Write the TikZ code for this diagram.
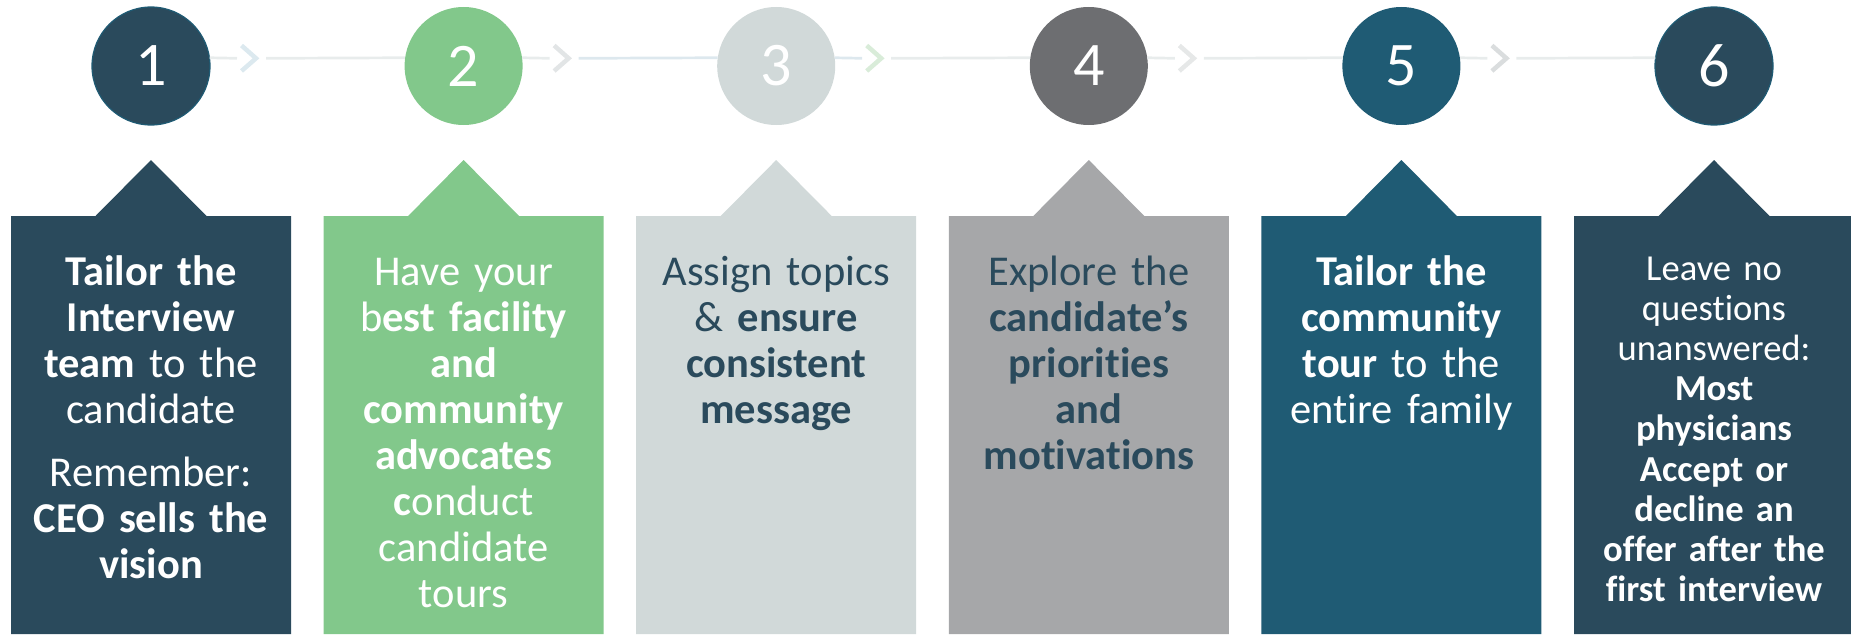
\documentclass[tikz,border=0pt]{standalone}
\usepackage{fontspec}
\setmainfont{Carlito}[Ligatures=NoCommon]
\definecolor{slate}{HTML}{2A4A5C}
\definecolor{stepgreen}{HTML}{82C88B}
\definecolor{lgrey}{HTML}{D1D9D9}
\definecolor{dgrey}{HTML}{6D6E71}
\definecolor{mgrey}{HTML}{A6A7A9}
\definecolor{teal}{HTML}{1F5B74}
\definecolor{linkc}{HTML}{E8ECEC}
\definecolor{linkb}{HTML}{DDE8EE}
\definecolor{chevA}{HTML}{DCE9EF}
\definecolor{chevB}{HTML}{E2E5E6}
\definecolor{chevC}{HTML}{D9ECD9}
\definecolor{chevD}{HTML}{E6E8E8}
\definecolor{chevE}{HTML}{DADDDE}
\tikzset{
  stepcirc/.style={circle, minimum size=118pt, inner sep=0pt, text=white,
    font=\fontsize{62}{62}\selectfont},
  boxtxt/.style={text width=270pt, align=center, anchor=base, inner sep=0pt,
    font=\fontsize{42.5}{46}\selectfont},
  smalltxt/.style={boxtxt, font=\fontsize{36.6}{40.2}\selectfont},
  linkline/.style={line width=2.7pt},
  chevron/.style={line width=4.5pt, line join=miter}
}
\begin{document}
\begin{tikzpicture}[x=1pt,y=-1pt]
\useasboundingbox (0,0) rectangle (1851,634);
% boxes with pointer triangles
\foreach \i/\bc in {1/slate,2/stepgreen,3/lgrey,4/mgrey,5/teal,6/slate}{
  \pgfmathsetmacro{\cx}{151+312.6*(\i-1)}
  \fill[\bc] (\cx-140,216) -- (\cx-55.5,216) -- (\cx,160) -- (\cx+55.5,216)
     -- (\cx+140,216) -- (\cx+140,634) -- (\cx-140,634) -- cycle;
}
% numbered circles
\foreach \i/\fc in {1/slate,2/stepgreen,3/lgrey,4/dgrey,5/teal,6/slate}{
  \pgfmathsetmacro{\cx}{151+312.6*(\i-1)}
  \node[stepcirc, fill=\fc] (c\i) at (\cx,66) {\i};
}
\draw[teal, line width=1.2pt] (c1) circle (59pt);
\draw[teal, line width=1.2pt] (c6) circle (59pt);
% connectors with chevrons
\foreach \i/\j/\la/\cc/\lb in {1/2/linkc/chevA/linkc,2/3/linkc/chevB/linkb,3/4/linkb/chevC/linkc,4/5/linkc/chevD/linkc,5/6/linkc/chevE/linkc}{
  \pgfmathsetmacro{\cx}{151+312.6*(\i-1)}
  \coordinate (a\i) at (\cx+86,58.3);
  \coordinate (b\i) at (\cx+115,58.3);
  \coordinate (p\i) at (\cx+90.5,45.5);
  \coordinate (q\i) at (\cx+105,58.3);
  \coordinate (r\i) at (\cx+90.5,71);
  \draw[linkline, \la] (c\i.8) -- (a\i);
  \draw[linkline, \lb] (b\i) -- (c\j.172);
  \draw[chevron, \cc] (p\i) -- (q\i) -- (r\i);
}
% texts
\node[boxtxt, text=white] (t1) at (151,285) {\textbf{Tailor the}\\\textbf{Interview}\\\textbf{team} to the\\candidate\\[17pt]Remember:\\\textbf{CEO sells the}\\\textbf{vision}};
\node[boxtxt, text=white] (t2) at (463.6,285) {Have your\\b\textbf{est facility}\\\textbf{and}\\\textbf{community}\\\textbf{advocates}\\\textbf{c}onduct\\candidate\\tours};
\node[boxtxt, text=slate] (t3) at (776.2,285) {Assign topics\\\& \textbf{ensure}\\\textbf{consistent}\\\textbf{message}};
\node[boxtxt, text=slate] (t4) at (1088.8,285) {Explore the\\\textbf{candidate’s}\\\textbf{priorities}\\\textbf{and}\\\textbf{motivations}};
\node[boxtxt, text=white] (t5) at (1401.4,285) {\textbf{Tailor the}\\\textbf{community}\\\textbf{tour} to the\\entire family};
\node[smalltxt, text=white] (t6) at (1714,280) {Leave no\\questions\\unanswered:\\\textbf{Most}\\\textbf{physicians}\\\textbf{Accept or}\\\textbf{decline an}\\\textbf{offer after the}\\\textbf{first interview}};
\end{tikzpicture}
\end{document}
